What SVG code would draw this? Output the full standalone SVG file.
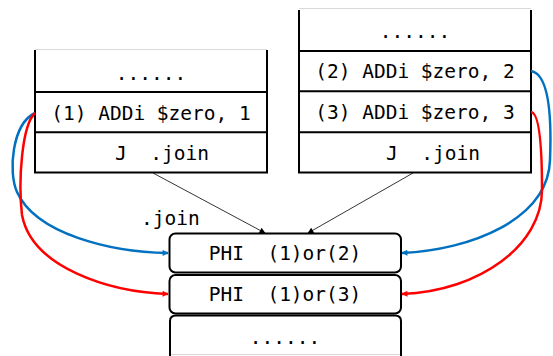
<svg xmlns="http://www.w3.org/2000/svg" width="553" height="356" viewBox="0 0 553 356">
<style>
.blk{fill:#fff;stroke:#000;stroke-width:2}
.edge{fill:none;stroke:#000;stroke-width:2}
.top{stroke:#d9d9d9;stroke-width:1}
.t{font-family:"DejaVu Sans Mono","Liberation Mono",monospace;font-size:19.5px;fill:#000;white-space:pre}
.c{text-anchor:middle}
.blue{fill:none;stroke:#0070C0;stroke-width:2.5}
.red{fill:none;stroke:#FF0000;stroke-width:2.5}
.thin{fill:none;stroke:#000;stroke-width:0.8}
</style>
<defs>
<marker id="ab" viewBox="0 0 10 10" refX="9" refY="5" markerWidth="8" markerHeight="6" markerUnits="userSpaceOnUse" orient="auto"><path d="M0,0L10,5L0,10z" fill="#0070C0"/></marker>
<marker id="ar" viewBox="0 0 10 10" refX="9" refY="5" markerWidth="8" markerHeight="6" markerUnits="userSpaceOnUse" orient="auto"><path d="M0,0L10,5L0,10z" fill="#FF0000"/></marker>
<marker id="ak" viewBox="0 0 10 10" refX="9" refY="5" markerWidth="8" markerHeight="6" markerUnits="userSpaceOnUse" orient="auto"><path d="M0,0L10,5L0,10z" fill="#000"/></marker>
</defs>
<rect width="553" height="356" fill="#fff"/>

<g id="blockA">
<line class="top" x1="35" y1="49.5" x2="267" y2="49.5"/>
<path class="edge" d="M35,50V172.5H267V50M35,92H267M35,132.3H267"/>
<text class="t c" x="151" y="80">......</text>
<text class="t c" x="151" y="119.5">(1) ADDi $zero, 1</text>
<text class="t" x="115" y="160">J  .join</text>
</g>

<g id="blockB">
<line class="top" x1="299" y1="8.5" x2="531" y2="8.5"/>
<path class="edge" d="M299,10V172.5H531V10M299,51H531M299,91.3H531M299,132.3H531"/>
<text class="t c" x="415" y="38">......</text>
<text class="t c" x="415" y="78">(2) ADDi $zero, 2</text>
<text class="t c" x="415" y="118.5">(3) ADDi $zero, 3</text>
<text class="t" x="386" y="159.5">J  .join</text>
</g>

<g id="label-join">
<text class="t" x="141" y="225">.join</text>
</g>

<g id="phi1">
<rect class="blk" x="169.5" y="233.5" width="231.5" height="39" rx="6"/>
<text class="t c" x="285" y="260">PHI  (1)or(2)</text>
</g>
<g id="phi2">
<rect class="blk" x="169.5" y="275" width="231.5" height="38.5" rx="6"/>
<text class="t c" x="285" y="301">PHI  (1)or(3)</text>
</g>
<g id="blockJoin">
<line class="top" x1="170" y1="354.5" x2="401" y2="354.5"/>
<path class="edge" d="M170,356V321Q170,315.5 176,315.5H395Q401,315.5 401,321V356"/>
<text class="t c" x="285" y="344">......</text>
</g>

<g id="connectors">
<line class="thin" x1="153" y1="173" x2="265" y2="233" marker-end="url(#ak)"/>
<line class="thin" x1="413" y1="173" x2="308" y2="233" marker-end="url(#ak)"/>
<path class="blue" d="M35,113C12,124 8,172 17,192C36,234 110,252 168,253" marker-end="url(#ab)"/>
<path class="red" d="M35,113C22,125 18,180 22,215C32,268 110,292 168,294" marker-end="url(#ar)"/>
<path class="blue" d="M531,71C548,74 552,110 550,160C548,220 470,250 402,253" marker-end="url(#ab)"/>
<path class="red" d="M531,112C540,113 542,150 542,190C542,245 480,291 402,294" marker-end="url(#ar)"/>
</g>
</svg>
